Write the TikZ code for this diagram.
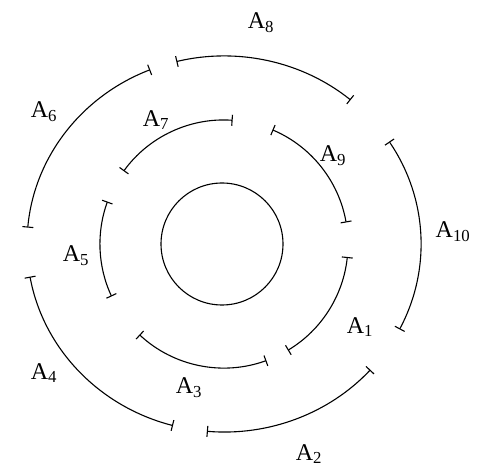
\documentclass[tikz,border=0pt]{standalone}
\usepackage{fontspec}
\setmainfont{Liberation Serif}
\usetikzlibrary{arrows.meta}

\begin{document}
\begin{tikzpicture}[x=1pt, y=1pt, line width=1.1pt,
    ring/.style={{Bar[width=11pt]}-{Bar[width=11pt]}},
    lbl/.style={font=\fontsize{24}{26}\selectfont}]
    \useasboundingbox (0,0) rectangle (477,466);
    \coordinate (O) at (224,222);

    % Inner circle
    \draw (222,222) circle (61pt);

    % Middle ring
    \draw [ring] ([shift={(144:124pt)}]O) arc[start angle=144, end angle=86, radius=124pt];
    \draw [ring] ([shift={(67:124pt)}]O) arc[start angle=67, end angle=10, radius=124pt];
    \draw [ring] ([shift={(-6:124pt)}]O) arc[start angle=-6, end angle=-59, radius=124pt];
    \draw [ring] ([shift={(-70:124pt)}]O) arc[start angle=-70, end angle=-133, radius=124pt];
    \draw [ring] ([shift={(160:124pt)}]O) arc[start angle=160, end angle=205, radius=124pt];

    % Outer ring
    \draw [ring] ([shift={(104:197pt and 188pt)}]O) arc[start angle=104, end angle=50, x radius=197pt, y radius=188pt];
    \draw [ring] ([shift={(33:197pt and 188pt)}]O) arc[start angle=33, end angle=-27, x radius=197pt, y radius=188pt];
    \draw [ring] ([shift={(-42:197pt and 188pt)}]O) arc[start angle=-42, end angle=-95, x radius=197pt, y radius=188pt];
    \draw [ring] ([shift={(190:197pt and 188pt)}]O) arc[start angle=190, end angle=255, x radius=197pt, y radius=188pt];
    \draw [ring] ([shift={(112:197pt and 188pt)}]O) arc[start angle=112, end angle=175, x radius=197pt, y radius=188pt];

    % Labels
    \node [lbl] (a1) at (360,139) {A\textsubscript{1}};
    \node [lbl] (a2) at (309,12) {A\textsubscript{2}};
    \node [lbl] (a3) at (189,78) {A\textsubscript{3}};
    \node [lbl] (a4) at (44,93) {A\textsubscript{4}};
    \node [lbl] (a5) at (76,210) {A\textsubscript{5}};
    \node [lbl] (a6) at (44,354) {A\textsubscript{6}};
    \node [lbl] (a7) at (156,346) {A\textsubscript{7}};
    \node [lbl] (a8) at (261,443) {A\textsubscript{8}};
    \node [lbl] (a9) at (333,310) {A\textsubscript{9}};
    \node [lbl] (a10) at (453,234) {A\textsubscript{10}};
\end{tikzpicture}
\end{document}
